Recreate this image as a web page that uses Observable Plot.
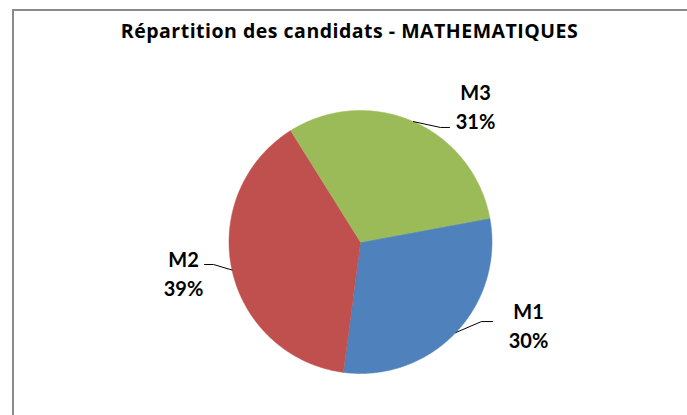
<!DOCTYPE html>
<html>
<head>
<meta charset="utf-8">
<script src="https://cdn.jsdelivr.net/npm/d3@7"></script>
<script src="https://cdn.jsdelivr.net/npm/@observablehq/plot@0.6"></script>
<style>
  html, body { margin: 0; padding: 0; background: #fff; }
  #wrap { position: relative; width: 687px; height: 415px; overflow: hidden; background: #fff; }
  #frame { position: absolute; left: 12px; top: 9px; width: 1000px; height: 1000px;
           border-top: 2px solid #8a8a8a; border-left: 2px solid #8a8a8a; box-sizing: border-box; }
  #title { position: absolute; left: 0; width: 699px; top: 18px; text-align: center;
           font-family: "Open Sans", Lato, sans-serif; font-weight: bold; font-size: 19.5px; color: #000; line-height: 26px;
           letter-spacing: 0.5px; }
  #chart { position: absolute; left: 0; top: 56px; }
</style>
</head>
<body>
<div id="wrap">
  <div id="frame"></div>
  <div id="title"></div>
  <div id="chart"></div>
</div>
<script>
// ---- data ----
const categories = ["M1", "M2", "M3"];
const shares = [30, 39, 31];
const percentLabels = ["30%", "39%", "31%"];
const sliceColors = ["#4F81BD", "#C0504D", "#9BBB59"];
const chartTitle = "Répartition des candidats - MATHEMATIQUES";

// ---- layout (pie units: radius = 1) ----
const startDeg = 79.5;
const labelPos = [ // label block centre, leader elbow and leader end
  {lx: 1.278, ly: -0.625, bx: 0.920, by: -0.605, ex: 1.004},
  {lx: -1.346, ly: -0.228, bx: -1.118, by: -0.171, ex: -1.186},
  {lx: 0.875, ly: 1.042, bx: 0.608, by: 0.871, ex: 0.677}
];

document.getElementById("title").textContent = chartTitle;

const pie = d3.pie().sort(null).value(d => d.share)
  .startAngle(startDeg * Math.PI / 180)
  .endAngle(startDeg * Math.PI / 180 + 2 * Math.PI);
const rows = categories.map((c, i) => ({name: c, share: shares[i], pct: percentLabels[i]}));
const arcs = pie(rows);

const polys = [];
arcs.forEach(a => {
  polys.push({name: a.data.name, x: 0, y: 0});
  const n = Math.ceil((a.endAngle - a.startAngle) / (Math.PI / 360));
  for (let k = 0; k <= n; k++) {
    const t = a.startAngle + (a.endAngle - a.startAngle) * k / n;
    polys.push({name: a.data.name, x: Math.sin(t), y: Math.cos(t)});
  }
});

const leaders = [];
const labels = [];
arcs.forEach((a, i) => {
  const m = (a.startAngle + a.endAngle) / 2;
  const L = labelPos[i];
  leaders.push({name: a.data.name, x: Math.sin(m), y: Math.cos(m)});
  leaders.push({name: a.data.name, x: L.bx, y: L.by});
  leaders.push({name: a.data.name, x: L.ex, y: L.by});
  labels.push({name: a.data.name, pct: a.data.pct, x: L.lx, y: L.ly});
});

const cx = 360, cy = 185.5, R = 131.5;
const plot = Plot.plot({
  width: 687,
  height: 359,
  margin: 0,
  x: {domain: [-1, 1], range: [cx - R, cx + R], axis: null},
  y: {domain: [-1, 1], range: [cy + R, cy - R], axis: null},
  color: {domain: categories, range: sliceColors},
  style: {background: "transparent", overflow: "visible"},
  marks: [
    Plot.line(polys, {x: "x", y: "y", z: "name", fill: "name", stroke: "name", strokeWidth: 0.5, curve: "linear-closed"}),
    Plot.line(leaders, {x: "x", y: "y", z: "name", stroke: "#000", strokeWidth: 1}),
    Plot.text(labels, {x: "x", y: "y", text: d => d.name + "\n" + d.pct, fontSize: 20, fontWeight: "bold",
      fontFamily: "Lato, 'Open Sans', sans-serif", fill: "#000", lineHeight: 1.45})
  ]
});
document.getElementById("chart").appendChild(plot);
</script>
</body>
</html>
